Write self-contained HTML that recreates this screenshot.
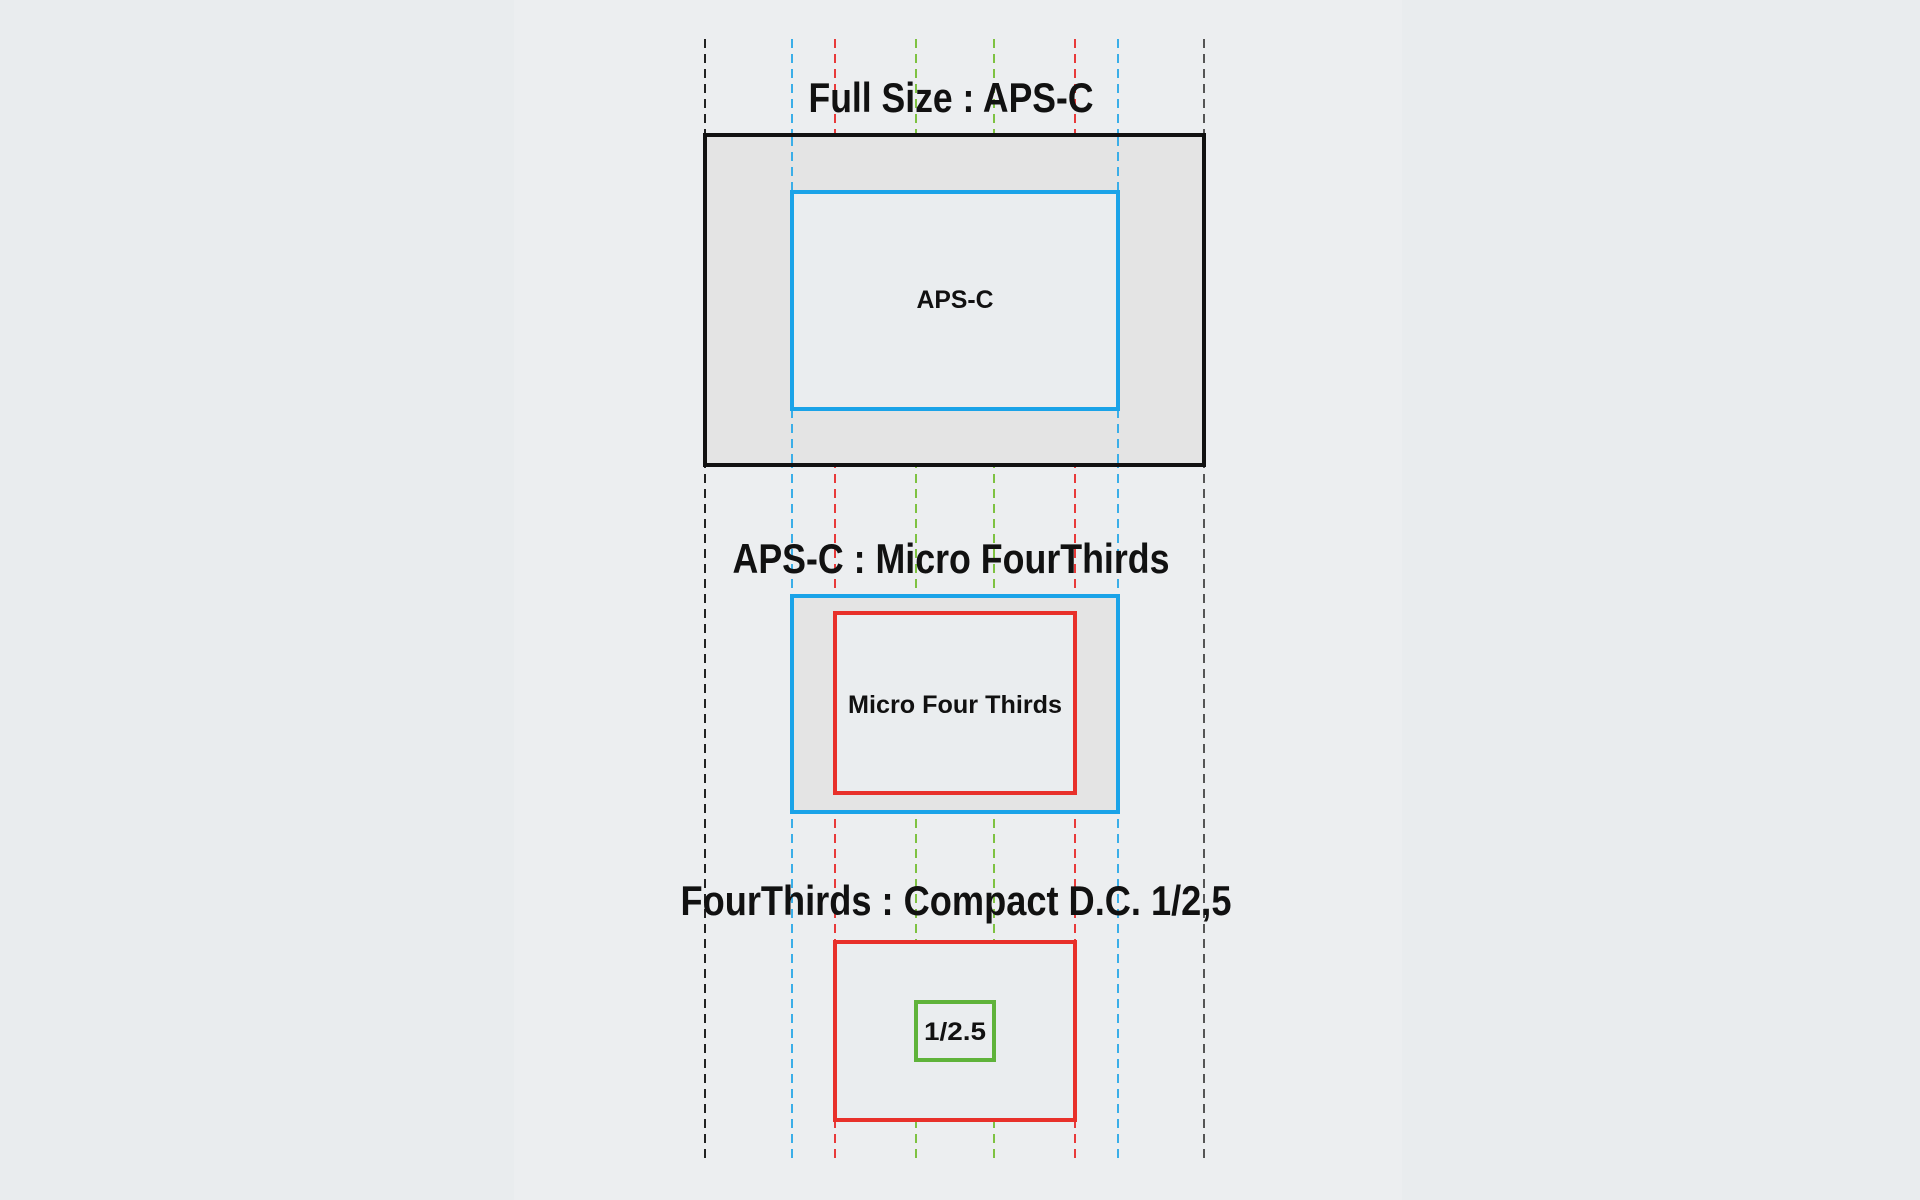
<!DOCTYPE html>
<html><head><style>
html,body{margin:0;padding:0;background:#e9ecee;}
svg{display:block}
text{font-family:"Liberation Sans Narrow","Liberation Sans",sans-serif;font-weight:bold;fill:#111;text-anchor:middle}
</style></head><body>
<svg width="1920" height="1200" viewBox="0 0 1920 1200" xmlns="http://www.w3.org/2000/svg">
<rect x="0" y="0" width="1920" height="1200" fill="#e9ecee"/>
<rect x="514" y="0" width="888" height="1200" fill="#eceef0"/>
<g stroke-width="2" stroke-dasharray="9,6" fill="none">
<line x1="705" y1="39" x2="705" y2="1163" stroke="#222"/>
<line x1="792" y1="39" x2="792" y2="1163" stroke="#3aaee8"/>
<line x1="835" y1="39" x2="835" y2="1163" stroke="#e83a3a"/>
<line x1="916" y1="39" x2="916" y2="1163" stroke="#7ec242"/>
<line x1="994" y1="39" x2="994" y2="1163" stroke="#7ec242"/>
<line x1="1075" y1="39" x2="1075" y2="1163" stroke="#e83a3a"/>
<line x1="1118" y1="39" x2="1118" y2="1163" stroke="#3aaee8"/>
<line x1="1204" y1="39" x2="1204" y2="1163" stroke="#555"/>
</g>
<!-- section 1 -->
<rect x="705" y="135" width="499" height="330" fill="#e4e4e4" stroke="#111" stroke-width="4"/>
<g stroke-width="2" stroke-dasharray="9,6" stroke="#3aaee8">
<line x1="792" y1="137" x2="792" y2="192"/>
<line x1="1118" y1="137" x2="1118" y2="192"/>
<line x1="792" y1="409" x2="792" y2="463"/>
<line x1="1118" y1="409" x2="1118" y2="463"/>
</g>
<rect x="792" y="192" width="326" height="217" fill="#eaedef" stroke="#1aa3e8" stroke-width="4"/>
<text x="951" y="112" font-size="42" textLength="285" lengthAdjust="spacingAndGlyphs">Full Size : APS-C</text>
<text x="955" y="308" font-size="25" textLength="77" lengthAdjust="spacingAndGlyphs">APS-C</text>
<!-- section 2 -->
<text x="951" y="573" font-size="42" textLength="437" lengthAdjust="spacingAndGlyphs">APS-C : Micro FourThirds</text>
<rect x="792" y="596" width="326" height="216" fill="#e4e4e4" stroke="#1aa3e8" stroke-width="4"/>
<rect x="835" y="613" width="240" height="180" fill="#eaedef" stroke="#e8302a" stroke-width="4"/>
<text x="955" y="713" font-size="25" textLength="214" lengthAdjust="spacingAndGlyphs">Micro Four Thirds</text>
<!-- section 3 -->
<text x="956" y="915" font-size="42" textLength="551" lengthAdjust="spacingAndGlyphs">FourThirds : Compact D.C. 1/2,5</text>
<rect x="835" y="942" width="240" height="178" fill="#eaedef" stroke="#e8302a" stroke-width="4"/>
<rect x="916" y="1002" width="78" height="58" fill="#eaedef" stroke="#5fb33a" stroke-width="4"/>
<text x="955" y="1040" font-size="25" textLength="62" lengthAdjust="spacingAndGlyphs">1/2.5</text>
</svg>
</body></html>
